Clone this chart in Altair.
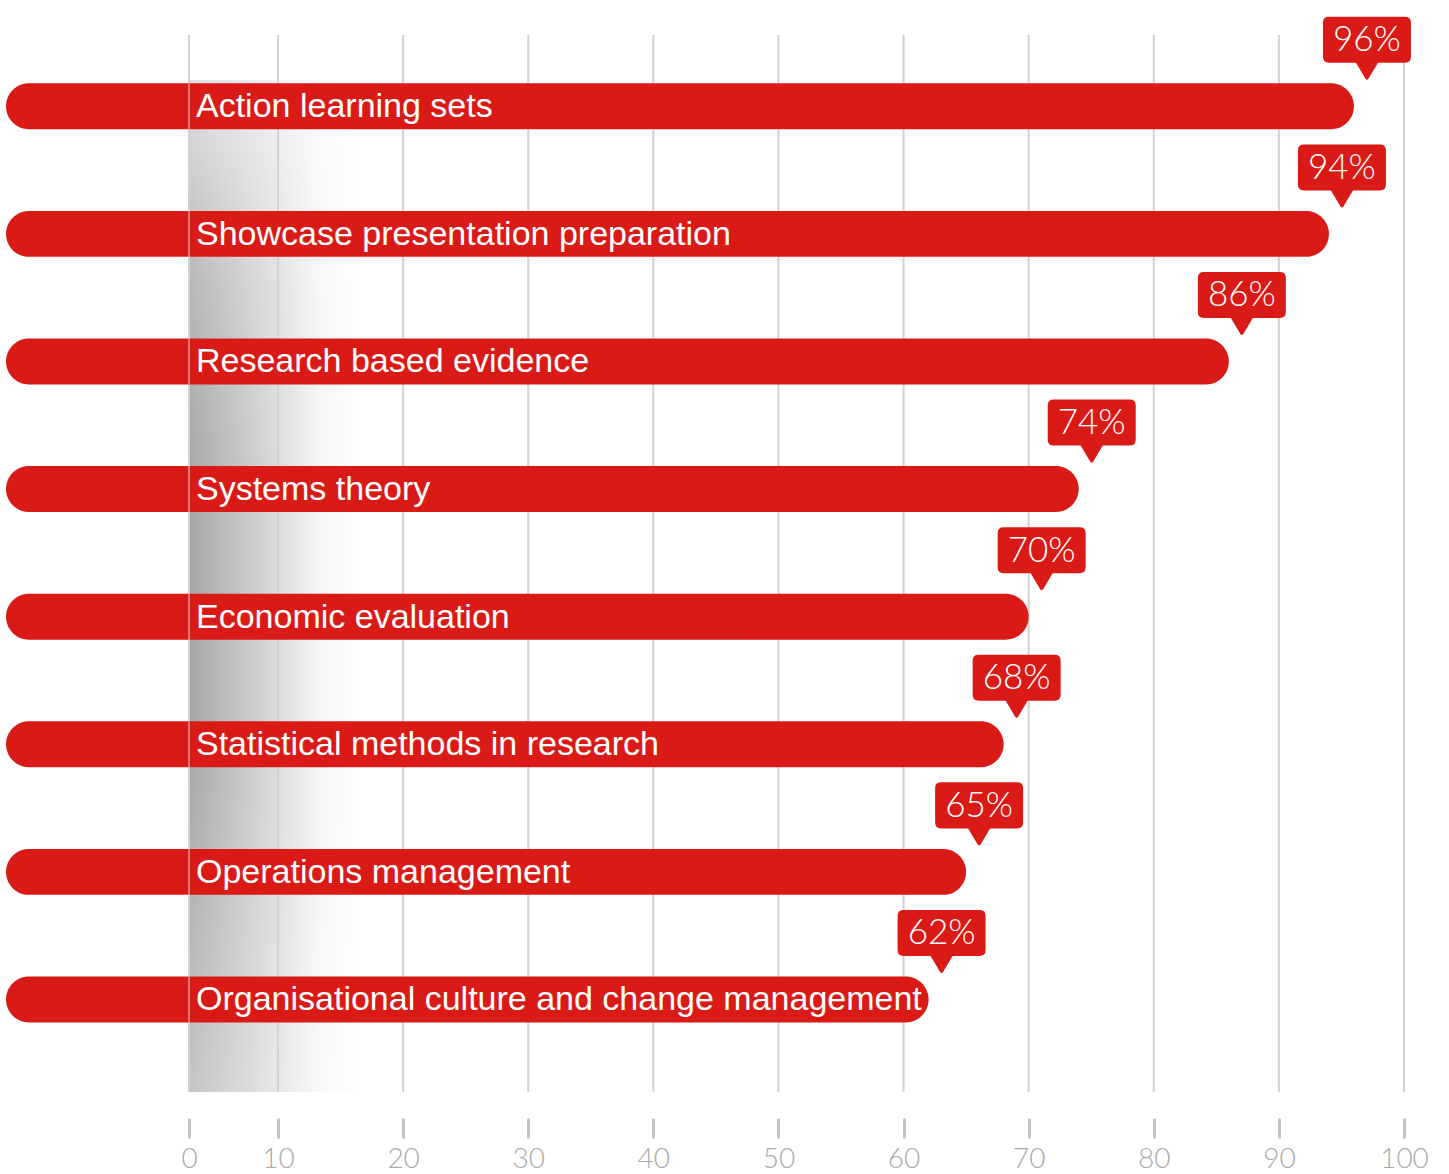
import altair as alt
import pandas as pd

categories = [
    "Action learning sets",
    "Showcase presentation preparation",
    "Research based evidence",
    "Systems theory",
    "Economic evaluation",
    "Statistical methods in research",
    "Operations management",
    "Organisational culture and change management",
]
values = [96, 94, 86, 74, 70, 68, 65, 62]
pct_labels = ["96%", "94%", "86%", "74%", "70%", "68%", "65%", "62%"]
bar_start = -12
tick_values = [0, 10, 20, 30, 40, 50, 60, 70, 80, 90, 100]

RED = "#da1a16"
W, H = 1398, 1057

df = pd.DataFrame({"cat": categories, "value": values, "pct": pct_labels,
                   "start": [bar_start] * len(values)})
ticks_df = pd.DataFrame({"t": tick_values})

# piecewise linear scale: the zero line sits closer to 10 than the regular step
xscale = alt.Scale(domain=[bar_start, 0, 10, 100], range=[0, 183, 272, 1398],
                   nice=False, zero=False)
yscale = alt.Scale(paddingInner=0.64, paddingOuter=0.462, align=0.41)

xaxis = alt.Axis(values=tick_values, grid=False, domain=False, ticks=True,
                 tickSize=20, tickWidth=3, tickColor="#c4c4c4", offset=26,
                 labelPadding=7, labelFontSize=28, labelColor="#aaaaaa",
                 labelFont="Lato", labelFontWeight=300, labelFlush=False,
                 labelOverlap=False, title=None)

ycat = alt.Y("cat:N", sort=categories, scale=yscale, axis=None)

base_one = pd.DataFrame({"a": [0]})

shade = alt.Chart(base_one).mark_rect(
    color=alt.LinearGradient(
        gradient="linear", x1=0, x2=1, y1=0, y2=0,
        stops=[alt.GradientStop(color="#a6a6a6", offset=0),
               alt.GradientStop(color="#d4d4d4", offset=0.45),
               alt.GradientStop(color="#f4f4f4", offset=0.75),
               alt.GradientStop(color="#ffffff", offset=1)])
).encode(
    x=alt.X("x0:Q", scale=xscale, axis=xaxis),
    x2=alt.datum(16.5),
    y=alt.value(45), y2=alt.value(H),
).transform_calculate(x0="0")

overlay = alt.Chart(base_one).mark_rect(
    color=alt.LinearGradient(
        gradient="linear", x1=0, x2=0, y1=0, y2=1,
        stops=[alt.GradientStop(color="rgba(255,255,255,0.65)", offset=0),
               alt.GradientStop(color="rgba(255,255,255,0.2)", offset=0.2),
               alt.GradientStop(color="rgba(255,255,255,0)", offset=0.4),
               alt.GradientStop(color="rgba(255,255,255,0)", offset=0.65),
               alt.GradientStop(color="rgba(255,255,255,0.35)", offset=1)])
).encode(
    x=alt.datum(0), x2=alt.datum(16.5),
    y=alt.value(45), y2=alt.value(H),
)

grid = alt.Chart(ticks_df).mark_rule(color="#d2d2d2", strokeWidth=2).encode(
    x=alt.X("t:Q", scale=xscale)
)

bars = alt.Chart(df).mark_bar(color=RED, cornerRadius=23).encode(
    x=alt.X("start:Q", scale=xscale),
    x2="value:Q",
    y=ycat,
)

zero_seam = alt.Chart(df).mark_tick(color="#ffffff", opacity=0.55,
                                    thickness=1.5, size=46).encode(
    x=alt.datum(0), y=ycat)

names = alt.Chart(df).mark_text(
    align="left", baseline="middle", dx=7, dy=1, color="white",
    font="Liberation Sans", fontSize=34
).encode(x=alt.datum(0), y=ycat, text="cat:N")

callout_path = ("M -0.864,-0.716 L 0.864,-0.716 Q 1,-0.716 1,-0.58 L 1,0.194 "
                "Q 1,0.33 0.864,0.33 L 0.25,0.33 L 0.03,0.7 Q 0,0.73 -0.03,0.7 "
                "L -0.25,0.33 L -0.864,0.33 Q -1,0.33 -1,0.194 L -1,-0.58 "
                "Q -1,-0.716 -0.864,-0.716 Z")

callouts = alt.Chart(df).mark_point(
    shape=callout_path, filled=True, color=RED, opacity=1, size=7744,
    strokeWidth=0, xOffset=13, yOffset=-58
).encode(x=alt.X("value:Q", scale=xscale), y=ycat)

callout_text = alt.Chart(df).mark_text(
    align="center", baseline="middle", color="white", font="Lato",
    fontWeight=300, fontSize=35, xOffset=13, yOffset=-66
).encode(x=alt.X("value:Q", scale=xscale), y=ycat, text="pct:N")

chart = alt.layer(shade, overlay, grid, bars, zero_seam, names, callouts,
                  callout_text).properties(
    width=W, height=H,
    autosize=alt.AutoSizeParams(type="none"),
    padding={"left": 6, "top": 35, "right": 45, "bottom": 82},
    background="white",
).configure_view(stroke=None, strokeWidth=0)

chart.save("out.html", embed_options={"renderer": "svg", "actions": False})
